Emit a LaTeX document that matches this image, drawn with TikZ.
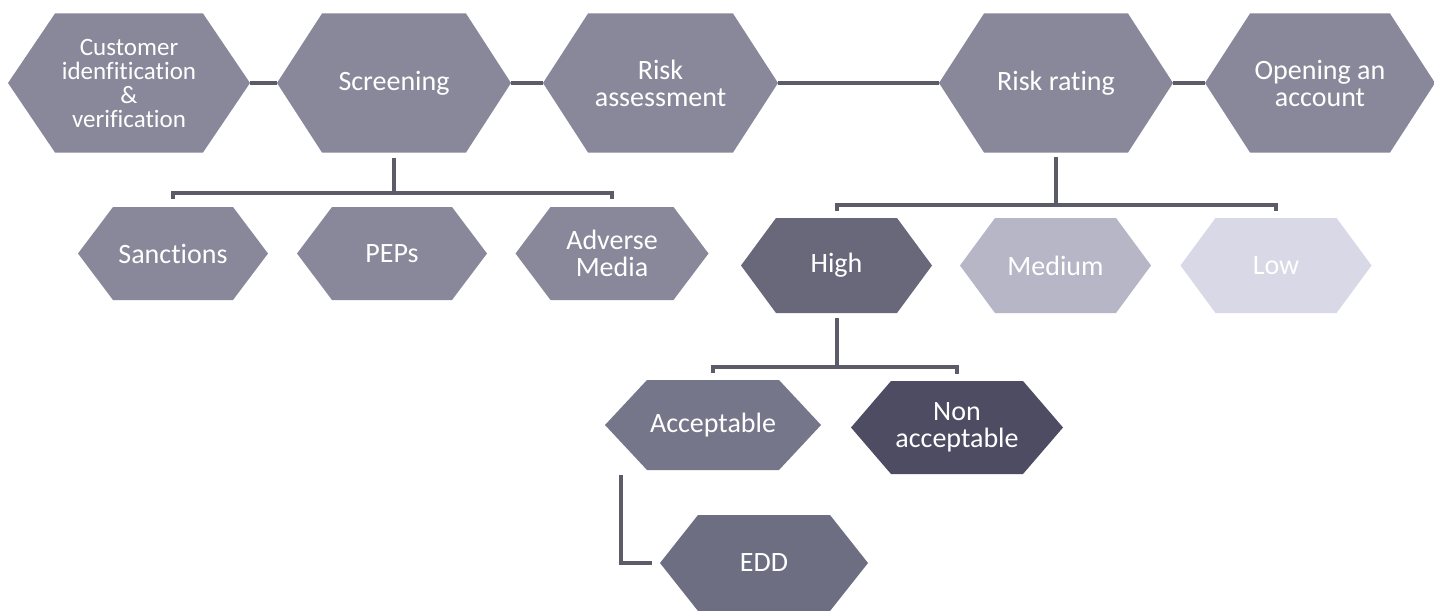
\documentclass[tikz,border=0pt]{standalone}
\usepackage{fontspec}
\setmainfont{Carlito}[Ligatures=NoCommon]
\definecolor{hexA}{RGB}{136,136,154}
\definecolor{hexHigh}{RGB}{104,104,122}
\definecolor{hexMed}{RGB}{182,182,198}
\definecolor{hexLow}{RGB}{216,216,230}
\definecolor{hexAcc}{RGB}{118,118,138}
\definecolor{hexNon}{RGB}{78,76,98}
\definecolor{hexEdd}{RGB}{110,110,130}
\definecolor{connc}{RGB}{92,92,104}
\tikzset{
  conn/.style={draw=connc, line width=4.5pt},
  bracket/.style={draw=connc, line width=4pt},
  hexlabel/.style={text=white, align=center, inner sep=0pt, font=\fontsize{28}{27}\selectfont},
}
\newcommand\hexnode[9][]{%
  \fill[#7] ({#2-#4/2},#3) -- ({#2-#4/2+#6},{#3-#5/2}) -- ({#2+#4/2-#6},{#3-#5/2})
    -- ({#2+#4/2},#3) -- ({#2+#4/2-#6},{#3+#5/2}) -- ({#2-#4/2+#6},{#3+#5/2}) -- cycle;
  \node[hexlabel, minimum width=#4pt, minimum height=#5pt, #1] (#8) at (#2,#3) {#9};
}
\begin{document}
\begin{tikzpicture}[x=1pt, y=-1pt]
\fill[white] (0,0) rectangle (1434,610);
\useasboundingbox (0,0) rectangle (1434,610);
% top row
\hexnode[font=\fontsize{25}{24}\selectfont]{129}{83}{242}{139}{47}{hexA}{cust}{Customer\\idenfitication\\\&\\verification}
\hexnode{394}{83}{234}{139}{45}{hexA}{scr}{Screening}
\hexnode{660.5}{83}{235}{139}{45}{hexA}{ra}{Risk\\assessment}
\hexnode{1056}{83}{234}{139}{45}{hexA}{rr}{Risk rating}
\hexnode{1320}{83}{230}{139}{45}{hexA}{open}{Opening an\\account}
% screening children
\hexnode{173}{253.5}{190}{93}{35}{hexA}{sanc}{Sanctions}
\hexnode{392}{253.5}{190}{93}{35}{hexA}{peps}{PEPs}
\hexnode{612}{253.5}{193}{93}{35}{hexA}{adv}{Adverse\\Media}
% risk rating children
\hexnode{836.5}{265.5}{191}{95}{35}{hexHigh}{high}{High}
\hexnode{1055.5}{265.5}{191}{95}{35}{hexMed}{med}{Medium}
\hexnode{1276}{265.5}{191}{95}{35}{hexLow}{low}{Low}
% high children
\hexnode{713}{425}{216}{90}{42}{hexAcc}{acc}{Acceptable}
\hexnode{957}{427.5}{212}{93}{40}{hexNon}{non}{Non\\acceptable}
\hexnode{764}{563}{208}{96}{38}{hexEdd}{edd}{EDD}
% top connectors
\draw[conn] (cust.east) -- (scr.west);
\draw[conn] (scr.east) -- (ra.west);
\draw[conn] (ra.east) -- (rr.west);
\draw[conn] (rr.east) -- (open.west);
% screening bracket
\coordinate (sb) at (392,193);
\draw[bracket] ([yshift=-5pt]scr.south) -- (scr.south |- sb);
\draw[bracket] ([yshift=8pt]sanc.north) |- (sb) -| ([yshift=8pt]adv.north);
% risk rating bracket
\coordinate (rb) at (1055,205);
\draw[bracket] ([yshift=-4pt]rr.south) -- (rr.south |- rb);
\draw[bracket] ([yshift=7pt]high.north) |- (rb) -| ([yshift=7pt]low.north);
% high bracket
\coordinate (hb) at (836,367);
\draw[bracket] ([yshift=-5pt]high.south) -- (high.south |- hb);
\draw[bracket] ([yshift=7pt]acc.north) |- (hb) -| ([yshift=7pt]non.north);
% acceptable to EDD
\draw[bracket] ([xshift=-92pt,yshift=-5pt]acc.south) |- ([xshift=-8pt]edd.west);
\end{tikzpicture}
\end{document}
